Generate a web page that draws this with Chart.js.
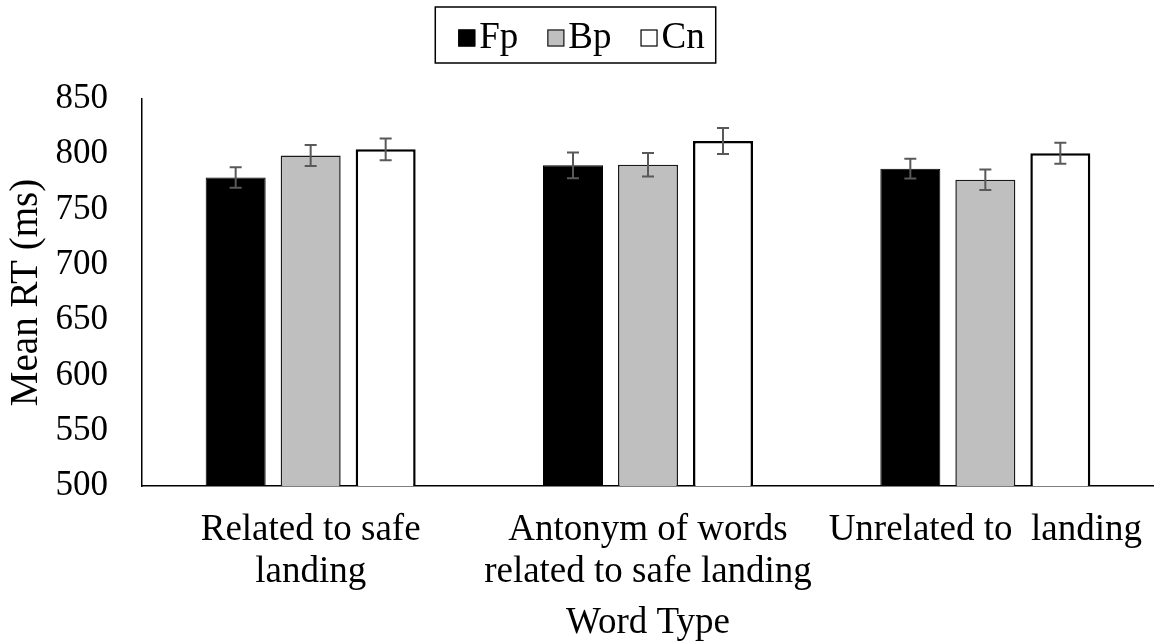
<!DOCTYPE html>
<html><head><meta charset="utf-8">
<script src="https://cdn.jsdelivr.net/npm/chart.js@4/dist/chart.umd.min.js"></script>
<style>html,body{margin:0;padding:0;background:#fff}#wrap{width:1154px;height:644px}</style>
</head><body><div id="wrap"><canvas id="c" width="1154" height="644"></canvas></div>
<script>
const categories = [["Related to safe", "landing"], ["Antonym of words", "related to safe landing"], ["Unrelated to  landing"]];
const seriesNames = ["Fp", "Bp", "Cn"];
const fpValues = [779, 790, 787];
const bpValues = [799, 790.5, 777];
const cnValues = [804.5, 812, 801];
const fpErrors = [9.3, 11.6, 9.0];
const bpErrors = [9.5, 10.6, 9.2];
const cnErrors = [9.8, 11.8, 9.5];
const yTicks = [500, 550, 600, 650, 700, 750, 800, 850];
const yTitle = "Mean RT (ms)";
const xTitle = "Word Type";

const FONT = '"Liberation Serif", "Times New Roman", serif';

const errorBarPlugin = {
  id: 'errorBars',
  afterDatasetsDraw(chart) {
    const ctx = chart.ctx;
    const ys = chart.scales.y;
    ctx.save();
    ctx.strokeStyle = '#595959';
    ctx.lineWidth = 2;
    chart.data.datasets.forEach((ds, i) => {
      const meta = chart.getDatasetMeta(i);
      meta.data.forEach((el, j) => {
        const v = ds.data[j], e = ds.errors[j];
        const yt = ys.getPixelForValue(v + e);
        const yb = ys.getPixelForValue(v - e);
        const x = el.x;
        ctx.beginPath();
        ctx.moveTo(x, yt); ctx.lineTo(x, yb);
        ctx.moveTo(x - 6, yt); ctx.lineTo(x + 6, yt);
        ctx.moveTo(x - 6, yb); ctx.lineTo(x + 6, yb);
        ctx.stroke();
      });
    });
    ctx.restore();
  }
};

const legendPlugin = {
  id: 'boxLegend',
  afterDraw(chart) {
    const ctx = chart.ctx;
    ctx.save();
    ctx.font = '37px ' + FONT;
    ctx.textBaseline = 'alphabetic';
    const sq = 17, gapText = 4, gapItem = 29;
    const items = chart.data.datasets.map(ds => ({
      label: ds.label, fill: ds.backgroundColor, stroke: ds.borderColor,
      w: sq + gapText + ctx.measureText(ds.label).width
    }));
    const contentW = items.reduce((s, it) => s + it.w, 0) + gapItem * (items.length - 1);
    const padL = 23, padR = 11;
    const boxW = contentW + padL + padR;
    const boxL = chart.width / 2 - 1.5 - boxW / 2;
    ctx.strokeStyle = '#000';
    ctx.lineWidth = 1.5;
    ctx.strokeRect(boxL, 7, boxW, 56);
    let x = boxL + padL;
    items.forEach(it => {
      ctx.fillStyle = it.fill;
      ctx.fillRect(x, 29.5, sq, sq);
      ctx.strokeStyle = it.stroke;
      ctx.lineWidth = 1.2;
      ctx.strokeRect(x + 0.5, 30, sq - 1, sq - 1);
      ctx.fillStyle = '#000';
      ctx.fillText(it.label, x + sq + gapText, 47.5);
      x += it.w + gapItem;
    });
    ctx.restore();
  }
};

new Chart(document.getElementById('c'), {
  type: 'bar',
  data: {
    labels: categories,
    datasets: [
      { label: seriesNames[0], data: fpValues, errors: fpErrors, backgroundColor: '#000000', borderColor: '#000000', borderWidth: 1 },
      { label: seriesNames[1], data: bpValues, errors: bpErrors, backgroundColor: '#bfbfbf', borderColor: '#1a1a1a', borderWidth: 1.5 },
      { label: seriesNames[2], data: cnValues, errors: cnErrors, backgroundColor: '#ffffff', borderColor: '#000000', borderWidth: 2.5 }
    ]
  },
  options: {
    responsive: false,
    animation: false,
    devicePixelRatio: 1,
    categoryPercentage: 0.667,
    barPercentage: 0.8,
    layout: { padding: { top: 99, right: 0, left: 0, bottom: 0 } },
    plugins: { legend: { display: false }, tooltip: { enabled: false } },
    scales: {
      x: {
        grid: { display: false, drawTicks: false },
        border: { display: true, color: '#000', width: 1.5 },
        ticks: { color: '#000', font: { family: FONT, size: 37, lineHeight: 1.12 }, padding: 24, maxRotation: 0, minRotation: 0, autoSkip: false },
        title: { display: true, text: xTitle, color: '#000', font: { family: FONT, size: 37, lineHeight: 1.2 }, padding: { top: 0, bottom: -1 } },
        afterFit(scale) { scale.height = 158; scale.paddingLeft = 0; scale.paddingRight = 0; }
      },
      y: {
        min: 500, max: 850,
        grid: { display: false, drawTicks: false },
        border: { display: true, color: '#000', width: 1.5 },
        ticks: { color: '#000', font: { family: FONT, size: 35 }, padding: 34, stepSize: 50 },
        afterBuildTicks(scale) { scale.ticks = yTicks.map(v => ({ value: v })); },
        title: { display: true, text: yTitle, color: '#000', font: { family: FONT, size: 39, lineHeight: 1.2 }, padding: { top: 3, bottom: 0 } },
        afterFit(scale) { scale.width = 142; scale.paddingTop = 0; scale.paddingBottom = 0; }
      }
    }
  },
  plugins: [errorBarPlugin, legendPlugin]
});
</script>
</body></html>
